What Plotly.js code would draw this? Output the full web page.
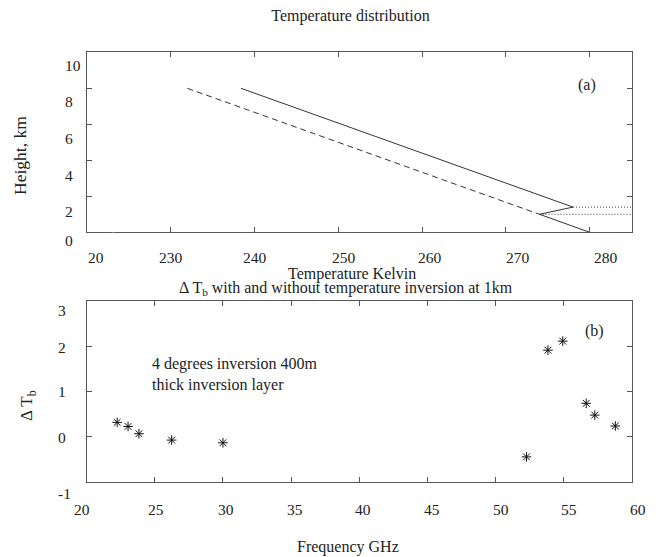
<!DOCTYPE html>
<html><head><meta charset="utf-8">
<script src="https://cdn.plot.ly/plotly-3.0.1.min.js"></script>
<style>html,body{margin:0;padding:0;background:#fff}</style>
</head><body><div id="chart" style="width:659px;height:557px"></div>
<script>
// ---- Panel (a): temperature profiles ----
const profileInvT = [238.4, 278, 274, 280];
const profileInvH = [8, 1.4, 1.0, 0];
const profileNoInvT = [232, 274];
const profileNoInvH = [8, 1.0];
const z1UpperT = [278, 285];
const z1UpperH = [1.4, 1.4];
const z1LowerT = [274, 285];
const z1LowerH = [1.0, 1.0];
const tempTickVals = [220, 230, 240, 250, 260, 270, 280];
const tempTickText = ["20", "230", "240", "250", "260", "270", "280"];
const heightTickVals = [0, 2, 4, 6, 8, 10];
const heightTickText = ["0", "2", "4", "6", "8", "10"];

// ---- Panel (b): brightness temperature difference ----
const freqGHz = [22.235, 23.035, 23.835, 26.235, 30.0, 52.28, 53.85, 54.94, 56.66, 57.29, 58.8];
const deltaTb = [0.32, 0.23, 0.07, -0.07, -0.13, -0.44, 1.91, 2.11, 0.74, 0.48, 0.24];
const freqTickVals = [20, 25, 30, 35, 40, 45, 50, 55, 60];
const freqTickText = ["20", "25", "30", "35", "40", "45", "50", "55", "60"];
const dtbTickVals = [-1, 0, 1, 2, 3];
const dtbTickText = ["-1", "0", "1", "2", "3"];

// label nudges (pixels) as in the original figure's hand-placed labels
const tempLabelDx = [9, 0.6, 0.7, 5.5, 7.7, 11.8, 16];
const freqLabelDx = [-4.4, 0.7, 3.3, 4, 4, 4.4, 6, 5, 6.6];
const heightLabelDy = [-7.7, -15.4, -14.7, -14.4, -13.4, -12.7];
const dtbLabelDy = [-10.8, -0.7, 0, -1.3, -10.2];

const FONT = "Liberation Serif";
const INK = "#222";
const FRAME = "#555";
const LINE = "#333";
const TICKSIZE = 15.5;

const W = 659, H = 557;
const px = v => v / W;
const py = v => 1 - v / H;

const traces = [
  {x: profileInvT, y: profileInvH, xaxis: "x", yaxis: "y", mode: "lines",
   line: {color: LINE, width: 1}, hoverinfo: "skip"},
  {x: profileNoInvT, y: profileNoInvH, xaxis: "x", yaxis: "y", mode: "lines",
   line: {color: LINE, width: 1, dash: "6px,4px"}, hoverinfo: "skip"},
  {x: z1UpperT, y: z1UpperH, xaxis: "x", yaxis: "y", mode: "lines",
   line: {color: LINE, width: 1, dash: "1px,2px"}, hoverinfo: "skip"},
  {x: z1LowerT, y: z1LowerH, xaxis: "x", yaxis: "y", mode: "lines",
   line: {color: LINE, width: 1, dash: "1px,2px"}, hoverinfo: "skip"},
  {x: freqGHz, y: deltaTb, xaxis: "x2", yaxis: "y2", mode: "markers",
   marker: {symbol: "asterisk-open", size: 8, color: "#111", line: {color: "#111", width: 1}}}
];

const axisBase = {
  showline: true, mirror: "ticks", linecolor: FRAME, linewidth: 1,
  ticks: "inside", ticklen: 5, tickcolor: FRAME, tickwidth: 1,
  showgrid: false, zeroline: false, fixedrange: true, showticklabels: false
};

function xLabels(vals, texts, dx, xref, yPix) {
  return vals.map((v, i) => ({
    text: texts[i], xref: xref, yref: "paper", x: v, y: py(yPix), xshift: dx[i],
    showarrow: false, xanchor: "center", yanchor: "middle",
    font: {family: FONT, size: TICKSIZE, color: INK}
  }));
}
function yLabels(vals, texts, dy, yref, xPix) {
  return vals.map((v, i) => ({
    text: texts[i], xref: "paper", yref: yref, x: px(xPix), y: v, yshift: dy[i],
    showarrow: false, xanchor: "left", yanchor: "middle",
    font: {family: FONT, size: TICKSIZE, color: INK}
  }));
}

const textAnnotations = [
  {text: "Temperature Kelvin", xref: "paper", yref: "paper", x: px(352), y: py(274),
   showarrow: false, xanchor: "center", yanchor: "middle", font: {family: FONT, size: 16, color: INK}},
  {text: "Height, km", xref: "paper", yref: "paper", x: px(20), y: py(156), textangle: -90,
   showarrow: false, xanchor: "center", yanchor: "middle", font: {family: FONT, size: 17.5, color: INK}},
  {text: "(a)", xref: "x", yref: "y", x: 279.7, y: 8.18,
   showarrow: false, xanchor: "center", yanchor: "middle", font: {family: FONT, size: 16, color: INK}},
  {text: "Z<sub>1</sub>", xref: "x", yref: "y", x: 285.5, y: 1.1,
   showarrow: false, xanchor: "left", yanchor: "middle", font: {family: FONT, size: 16, color: INK}},
  {text: "\u0394 T<sub>b</sub> with and without temperature inversion at 1km", xref: "paper", yref: "paper",
   x: px(346), y: py(289), showarrow: false, xanchor: "center", yanchor: "middle",
   font: {family: FONT, size: 16, color: INK}},
  {text: "\u0394 T<sub>b</sub>", xref: "paper", yref: "paper", x: px(28), y: py(406), textangle: -90,
   showarrow: false, xanchor: "center", yanchor: "middle", font: {family: FONT, size: 17, color: INK}},
  {text: "(b)", xref: "x2", yref: "y2", x: 57.24, y: 2.34,
   showarrow: false, xanchor: "center", yanchor: "middle", font: {family: FONT, size: 16, color: INK}},
  {text: "4 degrees inversion 400m<br>thick inversion layer", xref: "x2", yref: "y2", x: 24.65, y: 1.38,
   showarrow: false, xanchor: "left", yanchor: "middle", align: "left",
   font: {family: FONT, size: 16, color: INK}},
  {text: "Frequency GHz", xref: "paper", yref: "paper", x: px(348.3), y: py(546.7),
   showarrow: false, xanchor: "center", yanchor: "middle", font: {family: FONT, size: 16, color: INK}}
];

const layout = {
  width: W, height: H,
  margin: {l: 0, r: 0, t: 0, b: 0},
  paper_bgcolor: "#fff", plot_bgcolor: "#fff",
  showlegend: false,
  font: {family: FONT, color: INK},
  title: {text: "Temperature distribution", font: {family: FONT, size: 16, color: INK},
          x: px(350.5), xref: "paper", y: py(15), yref: "container", xanchor: "center", yanchor: "middle"},
  xaxis: Object.assign({}, axisBase, {
    domain: [px(86.7), px(631.7)], anchor: "y", range: [220, 285],
    tickmode: "array", tickvals: tempTickVals, ticktext: tempTickText
  }),
  yaxis: Object.assign({}, axisBase, {
    domain: [py(232.3), py(52.3)], anchor: "x", range: [0, 10],
    tickmode: "array", tickvals: heightTickVals, ticktext: heightTickText
  }),
  xaxis2: Object.assign({}, axisBase, {
    domain: [px(86.7), px(631.7)], anchor: "y2", range: [20, 60],
    tickmode: "array", tickvals: freqTickVals, ticktext: freqTickText
  }),
  yaxis2: Object.assign({}, axisBase, {
    domain: [py(482.3), py(300.7)], anchor: "x2", range: [-1, 3],
    tickmode: "array", tickvals: dtbTickVals, ticktext: dtbTickText
  }),
  shapes: [
    {type: "rect", xref: "x", yref: "y", x0: 222.95, x1: 223.3, y0: 9.85, y1: 10.15,
     fillcolor: "#fff", line: {width: 0}, layer: "above"},
    {type: "rect", xref: "x", yref: "y", x0: 222.95, x1: 223.3, y0: -0.15, y1: 0.15,
     fillcolor: "#fff", line: {width: 0}, layer: "above"}
  ],
  annotations: [].concat(
    xLabels(tempTickVals, tempTickText, tempLabelDx, "x", 257),
    yLabels(heightTickVals, heightTickText, heightLabelDy, "y", 62.5),
    xLabels(freqTickVals, freqTickText, freqLabelDx, "x2", 509.3),
    yLabels(dtbTickVals, dtbTickText, dtbLabelDy, "y2", 55.5),
    textAnnotations
  )
};

Plotly.newPlot("chart", traces, layout, {displayModeBar: false, staticPlot: true});
</script>
</body></html>
